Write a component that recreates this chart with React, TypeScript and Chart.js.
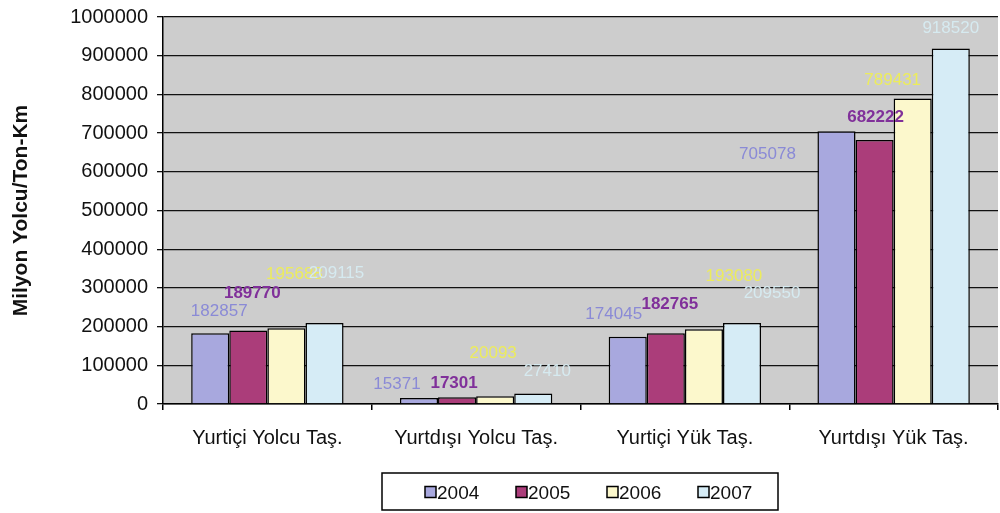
import React, { useEffect, useRef } from "react";
import { Chart, registerables } from "chart.js";

Chart.register(...registerables);

// Transport volumes by type, 2004–2007
const categories = ["Yurtiçi Yolcu Taş.", "Yurtdışı Yolcu Taş.", "Yurtiçi Yük Taş.", "Yurtdışı Yük Taş."];
const years = ["2004", "2005", "2006", "2007"];
const values2004 = [182857, 15371, 174045, 705078];
const values2005 = [189770, 17301, 182765, 682222];
const values2006 = [195688, 20093, 193080, 789431];
const values2007 = [209115, 27410, 209550, 918520];
const yTicks = [0, 100000, 200000, 300000, 400000, 500000, 600000, 700000, 800000, 900000, 1000000];
const yTitle = "Milyon Yolcu/Ton-Km";

const FONT = "'Liberation Sans', Arial, sans-serif";
const barColors = ["#a8a8de", "#ab3d7a", "#fcf8cc", "#d6ecf6"];
const labelColors = ["#8a8ad6", "#80309a", "#ecec5c", "#d6eaf0"];

// Value label nudges (dx, dy) relative to each bar's top centre, per year and category
const labelNudge: [number, number][][] = [
  [[9, -22], [-22, -14], [-14, -22], [-69, 23]],
  [[4, -37], [-3, -14], [4, -29], [1, -23]],
  [[8, -54], [-2, -43], [30, -53], [-20, -18]],
  [[12, -50], [14, -22], [30, -30], [0, -20]],
];

const plotBackground = {
  id: "plotBackground",
  beforeDraw(chart: any) {
    const { ctx, chartArea } = chart;
    ctx.save();
    ctx.fillStyle = "#cdcdcd";
    ctx.fillRect(chartArea.left, chartArea.top, chartArea.right - chartArea.left, chartArea.bottom - chartArea.top);
    ctx.restore();
  },
};

const valueLabels = {
  id: "valueLabels",
  afterDatasetsDraw(chart: any) {
    const { ctx } = chart;
    ctx.save();
    ctx.textAlign = "center";
    ctx.textBaseline = "middle";
    chart.data.datasets.forEach((ds: any, di: number) => {
      const meta = chart.getDatasetMeta(di);
      meta.data.forEach((bar: any, i: number) => {
        const [dx, dy] = labelNudge[di][i];
        ctx.fillStyle = labelColors[di];
        ctx.font = di === 1 ? `bold 17px ${FONT}` : `17px ${FONT}`;
        ctx.fillText(String(ds.data[i]), bar.x + dx, bar.y + dy);
      });
    });
    ctx.restore();
  },
};

const boxedLegend = {
  id: "boxedLegend",
  afterDraw(chart: any) {
    const { ctx } = chart;
    const left = 382, top = 473, width = 396, height = 37;
    ctx.save();
    ctx.fillStyle = "#ffffff";
    ctx.fillRect(left, top, width, height);
    ctx.strokeStyle = "#000";
    ctx.lineWidth = 1.5;
    ctx.strokeRect(left, top, width, height);
    ctx.font = `19px ${FONT}`;
    ctx.textBaseline = "middle";
    ctx.textAlign = "left";
    chart.data.datasets.forEach((ds: any, i: number) => {
      const x = 425 + i * 91;
      const cy = top + height / 2 + 1;
      ctx.fillStyle = ds.backgroundColor;
      ctx.fillRect(x, cy - 6, 11, 11);
      ctx.strokeStyle = "#000";
      ctx.lineWidth = 1.5;
      ctx.strokeRect(x, cy - 6, 11, 11);
      ctx.fillStyle = "#111";
      ctx.fillText(ds.label, x + 12, cy + 1);
    });
    ctx.restore();
  },
};

export default function App() {
  const canvasRef = useRef<HTMLCanvasElement | null>(null);

  useEffect(() => {
    if (!canvasRef.current) return;
    const series = [values2004, values2005, values2006, values2007];
    const chart = new Chart(canvasRef.current, {
      type: "bar",
      data: {
        labels: categories,
        datasets: series.map((data, i) => ({
          label: years[i],
          data,
          backgroundColor: barColors[i],
          borderColor: "#000",
          borderWidth: 1.5,
          categoryPercentage: 0.73,
          barPercentage: 1,
        })),
      },
      options: {
        responsive: false,
        animation: false,
        layout: { padding: { top: 17, right: 2, left: 0, bottom: 0 } },
        plugins: {
          legend: { display: false },
          tooltip: { enabled: false },
        },
        scales: {
          x: {
            offset: true,
            grid: {
              offset: true,
              drawOnChartArea: false,
              drawTicks: true,
              tickLength: 6,
              color: "#000",
              lineWidth: 1.5,
            },
            border: { color: "#000", width: 1.5 },
            ticks: {
              padding: 16,
              color: "#111",
              font: { family: FONT, size: 20 },
            },
            afterFit(scale: any) {
              scale.height = 109;
            },
          },
          y: {
            min: 0,
            max: 1000000,
            afterBuildTicks(scale: any) {
              scale.ticks = yTicks.map((v) => ({ value: v }));
            },
            grid: {
              color: "#111",
              lineWidth: 1.3,
              drawTicks: true,
              tickLength: 6,
            },
            border: { color: "#000", width: 1.5 },
            ticks: {
              padding: 9,
              color: "#111",
              font: { family: FONT, size: 20, lineHeight: 0.8 },
              callback: (v: any) => String(v),
            },
            title: {
              display: true,
              text: yTitle,
              color: "#111",
              font: { family: FONT, size: 21, weight: "bold" },
              padding: { top: 9, bottom: 0 },
            },
            afterFit(scale: any) {
              scale.width = 163;
            },
          },
        },
      },
      plugins: [plotBackground, valueLabels, boxedLegend],
    });
    return () => chart.destroy();
  }, []);

  return (
    <div style={{ position: "fixed", left: 0, top: 0, width: 1000, height: 513, background: "#fff" }}>
      <canvas ref={canvasRef} width={1000} height={513} />
    </div>
  );
}
